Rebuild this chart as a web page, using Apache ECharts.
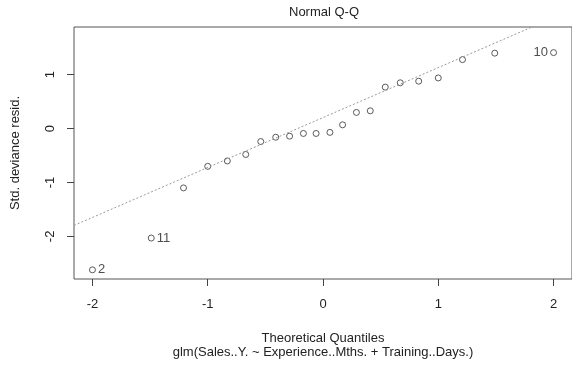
<!DOCTYPE html>
<html>
<head>
<meta charset="utf-8">
<script src="https://cdn.jsdelivr.net/npm/echarts@6/dist/echarts.min.js"></script>
<style>
  html, body { margin: 0; padding: 0; background: #fff; }
  #chart { width: 572px; height: 367px; }
</style>
</head>
<body>
<div id="chart"></div>
<script>
// theoretical quantiles (x) and std. deviance residuals (y)
const theoQuantiles = [-2.00, -1.49, -1.21, -1.00, -0.83, -0.67, -0.54, -0.41, -0.29, -0.17, -0.06,
  0.06, 0.17, 0.29, 0.41, 0.54, 0.67, 0.83, 1.00, 1.21, 1.49, 2.00];
const stdResid = [-2.62, -2.03, -1.10, -0.70, -0.60, -0.48, -0.24, -0.16, -0.14, -0.09, -0.09,
  -0.07, 0.07, 0.30, 0.33, 0.77, 0.85, 0.88, 0.94, 1.28, 1.40, 1.41];
const pointIds = ['2', '11', '', '', '', '', '', '', '', '', '', '', '', '', '', '', '', '', '', '', '', '10'];
const xTicks = [-2, -1, 0, 1, 2];
const yTicks = [-2, -1, 0, 1];

const font = 'Liberation Sans, Arial, sans-serif';
const ink = '#222';

// qqline through the quartiles (type 7 quantile, like R)
const quant = (arr, p) => {
  const s = [...arr].sort((a, b) => a - b);
  const h = (s.length - 1) * p;
  const lo = Math.floor(h);
  return s[lo] + (h - lo) * (s[Math.min(lo + 1, s.length - 1)] - s[lo]);
};
const q1 = quant(stdResid, 0.25), q3 = quant(stdResid, 0.75);
const z = 0.6744898;
const slope = (q3 - q1) / (2 * z);
const intercept = q1 + slope * z;

const xMin = -2.16, xMax = 2.16, yMin = -2.79, yMax = 1.885;

const points = theoQuantiles.map((x, i) => ({
  value: [x, stdResid[i]],
  label: {
    show: pointIds[i] !== '',
    formatter: pointIds[i],
    position: x < 0 ? 'right' : 'left',
    distance: 2,
    color: ink,
    fontFamily: font,
    fontSize: 13,
  },
}));

const chart = echarts.init(document.getElementById('chart'));
chart.setOption({
  animation: false,
  graphic: [{
    type: 'text',
    left: 325 - 36,
    top: 6,
    style: { text: 'Normal Q-Q', fill: ink, font: '13px ' + font },
  }],
  grid: {
    left: 74, top: 27, right: -5, bottom: 88,
    show: true, borderColor: '#555', borderWidth: 1, backgroundColor: 'transparent',
  },
  xAxis: {
    type: 'value',
    min: xMin, max: xMax,
    name: 'Theoretical Quantiles\nglm(Sales..Y. ~ Experience..Mths. + Training..Days.)',
    nameLocation: 'middle',
    nameGap: 52,
    nameTextStyle: { color: ink, fontFamily: font, fontSize: 13, lineHeight: 14 },
    axisLine: { show: false, onZero: false },
    axisTick: { show: true, inside: false, length: 7, customValues: xTicks, lineStyle: { color: '#444' } },
    axisLabel: { customValues: xTicks, margin: 19, color: ink, fontFamily: font, fontSize: 13 },
    splitLine: { show: false },
  },
  yAxis: {
    type: 'value',
    min: yMin, max: yMax,
    name: 'Std. deviance resid.',
    nameLocation: 'middle',
    nameRotate: 90,
    nameGap: 52,
    nameTextStyle: { color: ink, fontFamily: font, fontSize: 13 },
    axisLine: { show: false, onZero: false },
    axisTick: { show: true, inside: false, length: 7, customValues: yTicks, lineStyle: { color: '#444' } },
    axisLabel: { customValues: yTicks, rotate: 90, margin: 17, color: ink, fontFamily: font, fontSize: 13 },
    splitLine: { show: false },
  },
  series: [
    {
      type: 'line',
      data: [[xMin, intercept + slope * xMin], [xMax, intercept + slope * xMax]],
      symbol: 'none',
      clip: true,
      lineStyle: { color: '#999', width: 1, type: [2, 2] },
      silent: true,
    },
    {
      type: 'scatter',
      data: points,
      symbol: 'circle',
      symbolSize: 6,
      itemStyle: { color: 'transparent', borderColor: '#333', borderWidth: 1 },
    },
  ],
});
</script>
</body>
</html>
